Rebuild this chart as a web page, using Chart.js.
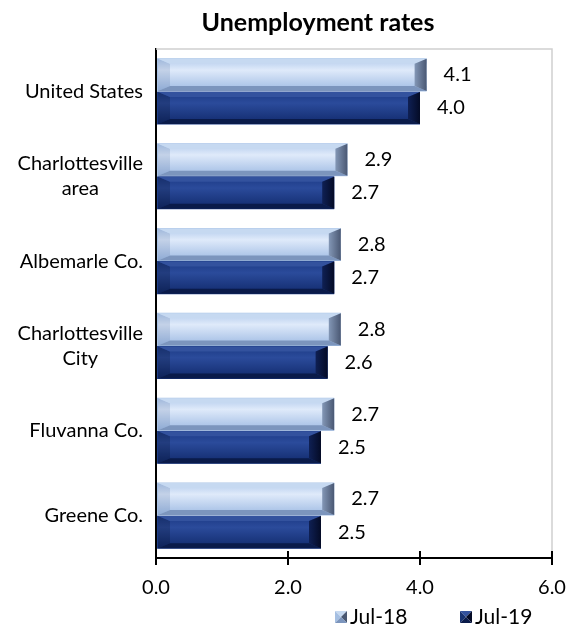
<!DOCTYPE html>
<html>
<head>
<meta charset="utf-8">
<script src="https://cdn.jsdelivr.net/npm/chart.js@4.4.1/dist/chart.umd.min.js"></script>
<style>
  html, body { margin: 0; padding: 0; background: #fff; }
  #wrap { width: 569px; height: 630px; }
</style>
</head>
<body>
<div id="wrap"><canvas id="chart" width="569" height="630"></canvas></div>
<script>

// data
const categories = [["United States"], ["Charlottesville", "area"], ["Albemarle Co."], ["Charlottesville", "City"], ["Fluvanna Co."], ["Greene Co."]];
const seriesNames = ["Jul-18", "Jul-19"];
const jul18 = [4.1, 2.9, 2.8, 2.8, 2.7, 2.7];
const jul19 = [4.0, 2.7, 2.7, 2.6, 2.5, 2.5];
const xTicks = [0, 2, 4, 6];


const FONT = "Lato";

// bevel colours for each series
const bevel = [
    { face: ["#b3cbec", "#dfeafa", "#9fbbe3"], top: "#c6d9f1", bottom: "#7c95bd", right: ["#8397b6", "#4a5873"], left: "rgba(70,100,150,0.18)", icon: "#a5bfe2" },
    { face: ["#1c3a85", "#2b4b9b", "#112a6c"], top: "#33529e", bottom: "#0a1b4a", right: ["#0f2054", "#040b26"], left: "rgba(0,0,0,0.18)", icon: "#163170" }
];


function poly(ctx, pts, fill) {
    ctx.beginPath();
    ctx.moveTo(pts[0][0], pts[0][1]);
    for (let i = 1; i < pts.length; i++) ctx.lineTo(pts[i][0], pts[i][1]);
    ctx.closePath();
    ctx.fillStyle = fill;
    ctx.fill();
}


function drawBevel(ctx, x0, y0, x1, y1, s, bx, by) {

    bx = Math.min(bx, (x1 - x0) / 2);

    let g = ctx.createLinearGradient(0, y0, 0, y1);
    g.addColorStop(0, s.face[0]);
    g.addColorStop(0.35, s.face[1]);
    g.addColorStop(1, s.face[2]);
    ctx.fillStyle = g;
    ctx.fillRect(x0, y0, x1 - x0, y1 - y0);

    poly(ctx, [[x0, y0], [x0, y1], [x0 + bx, y1 - by], [x0 + bx, y0 + by]], s.left);
    poly(ctx, [[x0, y0], [x1, y0], [x1 - bx, y0 + by], [x0 + bx, y0 + by]], s.top);
    poly(ctx, [[x0, y1], [x1, y1], [x1 - bx, y1 - by], [x0 + bx, y1 - by]], s.bottom);

    let r = ctx.createLinearGradient(x1 - bx, 0, x1, 0);
    r.addColorStop(0, s.right[0]);
    r.addColorStop(1, s.right[1]);
    poly(ctx, [[x1, y0], [x1, y1], [x1 - bx, y1 - by], [x1 - bx, y0 + by]], r);
}


const bevelBars = {
    id: "bevelBars",
    afterDatasetsDraw(chart) {
        const ctx = chart.ctx;
        ctx.save();
        chart.data.datasets.forEach((ds, di) => {
            chart.getDatasetMeta(di).data.forEach((bar, i) => {
                const p = bar.getProps(["x", "y", "base", "height"], true);
                const y0 = p.y - p.height / 2 + 0.5, y1 = p.y + p.height / 2 - 0.5;
                drawBevel(ctx, p.base + 1, y0, p.x, y1, bevel[di], 12, 5);

                // value label
                ctx.fillStyle = "#000";
                ctx.font = "20px " + FONT;
                ctx.textAlign = "left";
                ctx.textBaseline = "middle";
                ctx.fillText(ds.data[i].toFixed(1), p.x + 17, p.y);
            });
        });
        ctx.restore();
    }
};


const frame = {
    id: "frame",
    beforeDatasetsDraw(chart) {
        const a = chart.chartArea, ctx = chart.ctx;
        ctx.save();
        ctx.strokeStyle = "#d0d0d0";
        ctx.lineWidth = 1.5;
        ctx.beginPath();
        ctx.moveTo(a.left, a.top);
        ctx.lineTo(a.right, a.top);
        ctx.lineTo(a.right, a.bottom);
        ctx.stroke();
        ctx.restore();
    },
    afterDraw(chart) {
        const a = chart.chartArea, ctx = chart.ctx;
        const xs = chart.scales.x, ys = chart.scales.y;
        ctx.save();

        // inner half of the x ticks
        ctx.strokeStyle = "#000";
        ctx.lineWidth = 2;
        xTicks.forEach(v => {
            const px = Math.round(xs.getPixelForValue(v));
            ctx.beginPath();
            ctx.moveTo(px, a.bottom);
            ctx.lineTo(px, a.bottom - 7);
            ctx.stroke();
        });

        // category labels: block right aligned, lines centred
        ctx.fillStyle = "#000";
        ctx.font = "20px " + FONT;
        ctx.textAlign = "center";
        ctx.textBaseline = "middle";
        categories.forEach((lines, i) => {
            const cy = ys.getPixelForValue(i);
            const w = Math.max(...lines.map(t => ctx.measureText(t).width));
            const cx = a.left - 13 - w / 2;
            lines.forEach((t, k) => {
                ctx.fillText(t, cx, cy + (k - (lines.length - 1) / 2) * 25);
            });
        });

        // legend
        const legendX = [335, 460];
        const legendY = 617;
        ctx.font = "21px " + FONT;
        seriesNames.forEach((name, i) => {
            const x = legendX[i], s = bevel[i];
            const y0 = legendY - 6, y1 = legendY + 6, x1 = x + 12, mx = x + 6;
            poly(ctx, [[x, y0], [x1, y0], [mx, legendY]], s.top);
            poly(ctx, [[x, y0], [x, y1], [mx, legendY]], s.icon);
            poly(ctx, [[x1, y0], [x1, y1], [mx, legendY]], s.right[1]);
            poly(ctx, [[x, y1], [x1, y1], [mx, legendY]], s.bottom);
            ctx.fillStyle = "#000";
            ctx.textAlign = "left";
            ctx.fillText(name, x + 15, legendY);
        });

        ctx.restore();
    }
};



const ctx = document.getElementById("chart").getContext("2d");

new Chart(ctx, {

    type: "bar",

    data: {
        labels: categories,
        datasets: [
            { label: seriesNames[0], data: jul18, backgroundColor: "#a9c3e6" },
            { label: seriesNames[1], data: jul19, backgroundColor: "#1f3f8a" }
        ]
    },

    options: {
        indexAxis: "y",
        responsive: false,
        animation: false,
        datasets: { bar: { barPercentage: 1, categoryPercentage: 0.78 } },
        layout: { padding: { left: 84, right: 17, top: 0, bottom: 19 } },
        plugins: {
            legend: { display: false },
            tooltip: { enabled: false },
            title: {
                display: true,
                text: "Unemployment rates",
                color: "#000",
                font: { family: FONT, size: 25, weight: "bold" },
                padding: { top: 8, bottom: 11 }
            }
        },
        scales: {
            x: {
                min: 0,
                max: 6,
                afterBuildTicks: s => { s.ticks = xTicks.map(v => ({ value: v })); },
                afterFit: s => { s.paddingLeft = 0; s.paddingRight = 0; },
                ticks: {
                    callback: v => Number(v).toFixed(1),
                    color: "#000",
                    font: { family: FONT, size: 20 },
                    padding: 11,
                    maxRotation: 0
                },
                grid: { display: true, drawOnChartArea: false, drawTicks: true, tickLength: 7, color: "#000", lineWidth: 2 },
                border: { display: true, color: "#000", width: 2 }
            },
            y: {
                ticks: { display: false },
                grid: { display: false },
                border: { display: true, color: "#000", width: 2 },
                afterFit: s => { s.width = 72; }
            }
        }
    },

    plugins: [frame, bevelBars]

});

</script>
</body>
</html>
